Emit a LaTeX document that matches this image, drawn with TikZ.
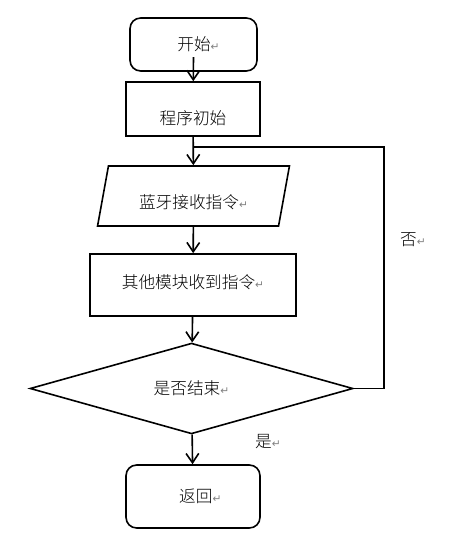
\documentclass[tikz,border=0pt]{standalone}
\usepackage{fontspec}
\setmainfont{Noto Sans CJK SC}[UprightFont=* Light]
\newfontfamily\retfont{DejaVu Sans}
\usetikzlibrary{shapes.geometric,arrows.meta}
\newcommand{\retmark}{{\color{gray}\retfont\fontsize{8}{8}\selectfont ↵}}

\begin{document}
\begin{tikzpicture}[x=0.75pt,y=-0.75pt, line width=1.2pt,
	>={Straight Barb[length=7pt,width=9.5pt,line width=1.2pt]},
	every node/.style={font=\fontsize{12.5}{15}\selectfont, inner sep=0pt},
	termbox/.style={draw, rounded corners=8pt, minimum width=#1},
	procbox/.style={draw, minimum width=#1},
	iobox/.style={draw, trapezium, trapezium left angle=76, trapezium right angle=104,
		trapezium stretches=true, minimum width=#1},
	testbox/.style={draw, diamond, minimum width=#1}]
	\useasboundingbox (0,0) rectangle (458,541);
	% boxes
	\node[termbox=95.25pt, minimum height=39.75pt] (start) at (193.5,44.5) {\hspace{7.5pt}开始\retmark};
	\node[procbox=100.5pt, minimum height=40.5pt, text height=24.5pt] (init) at (193,109) {程序初始\hspace{13.5pt}};
	\node[iobox=144.75pt, minimum height=45pt, text height=20pt] (recv) at (193.5,196) {蓝牙接收指令\retmark};
	\node[procbox=154.5pt, minimum height=46.5pt, text depth=5.5pt] (other) at (193,285) {其他模块收到指令\retmark\hspace{5pt}};
	\node[testbox=242.25pt, minimum height=66.75pt] (decide) at (191.5,388.5) {是否结束\retmark};
	\node[termbox=100.5pt, minimum height=47.25pt] (back) at (193,496.5) {\hspace{11pt}返回\retmark};
	\coordinate (loopin) at (193,147);
	% labels
	\node (no) at (413,240) {否\retmark};
	\node (yes) at (268,442) {是\retmark};
	% connectors
	\draw[->] ([yshift=-9.4pt]start.center) -- (init);
	\draw[->] (init) -- (recv);
	\draw[->] (recv) -- (other);
	\draw[->] (other) -- (decide);
	\draw[->] (decide) -- (back);
	\draw (decide.east) -- ++(30,0) |- (loopin);
\end{tikzpicture}
\end{document}
